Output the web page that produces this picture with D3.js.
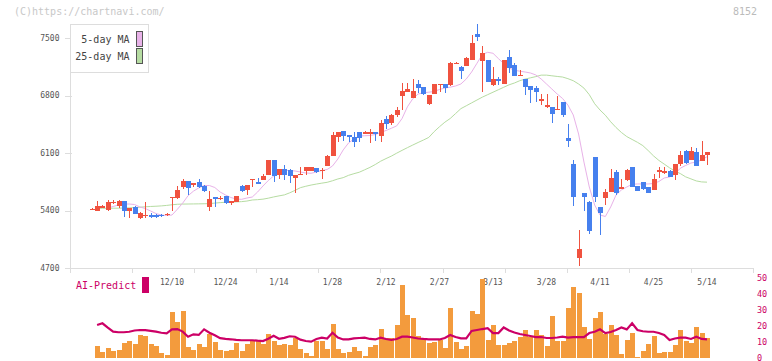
<!DOCTYPE html>
<html><head><meta charset="utf-8">
<script src="https://cdn.jsdelivr.net/npm/d3@7/dist/d3.min.js"></script>
<style>body{margin:0;background:#fff}svg{display:block}text{font-family:"DejaVu Sans Mono",monospace}</style>
</head><body><svg id="c" width="772" height="361"></svg>
<script>
const dates = ["2024/11/19","2024/11/20","2024/11/21","2024/11/22","2024/11/25","2024/11/26","2024/11/27","2024/11/28","2024/11/29","2024/12/02","2024/12/03","2024/12/04","2024/12/05","2024/12/06","2024/12/09","2024/12/10","2024/12/11","2024/12/12","2024/12/13","2024/12/16","2024/12/17","2024/12/18","2024/12/19","2024/12/20","2024/12/23","2024/12/24","2024/12/25","2024/12/26","2024/12/27","2024/12/30",
"2025/01/06","2025/01/07","2025/01/08","2025/01/09","2025/01/10","2025/01/14","2025/01/15","2025/01/16","2025/01/17","2025/01/20","2025/01/21","2025/01/22","2025/01/23","2025/01/24","2025/01/27","2025/01/28","2025/01/29","2025/01/30","2025/01/31",
"2025/02/03","2025/02/04","2025/02/05","2025/02/06","2025/02/07","2025/02/10","2025/02/12","2025/02/13","2025/02/14","2025/02/17","2025/02/18","2025/02/19","2025/02/20","2025/02/21","2025/02/25","2025/02/26","2025/02/27","2025/02/28",
"2025/03/03","2025/03/04","2025/03/05","2025/03/06","2025/03/07","2025/03/10","2025/03/11","2025/03/12","2025/03/13","2025/03/14","2025/03/17","2025/03/18","2025/03/19","2025/03/21","2025/03/24","2025/03/25","2025/03/26","2025/03/27","2025/03/28","2025/03/31",
"2025/04/01","2025/04/02","2025/04/03","2025/04/04","2025/04/07","2025/04/08","2025/04/09","2025/04/10","2025/04/11","2025/04/14","2025/04/15","2025/04/16","2025/04/17","2025/04/18","2025/04/21","2025/04/22","2025/04/23","2025/04/24","2025/04/25","2025/04/28","2025/04/30",
"2025/05/01","2025/05/02","2025/05/07","2025/05/08","2025/05/09","2025/05/12","2025/05/13","2025/05/14"];

const open = [5410,5398,5434,5406,5498,5455,5516,5398,5446,5312,5337,5349,5349,5349,5341,5560,5552,5690,5759,5715,
5751,5702,5446,5565,5536,5577,5487,5503,5698,5649,5775,5747,5771,5832,6014,5832,5905,5893,5799,5846,
5885,5880,5913,5890,5942,6063,6291,6368,6319,6291,6352,6348,6348,6352,6310,6520,6460,6560,6793,6846,
6773,6939,6899,6696,6818,6935,6939,6927,7190,7150,7159,7232,7548,7224,7232,6927,6997,6939,7264,7171,
7046,6997,6915,6887,6749,6656,6656,6632,6717,6278,5966,4818,5609,5507,6047,5439,5548,5630,5865,5662,
5771,5925,5698,5743,5682,5649,5872,5860,5885,5832,5966,6124,6014,6112,6006,6071];
const high = [5425,5516,5465,5528,5528,5530,5520,5435,5450,5382,5503,5373,5361,5355,5365,5570,5698,5783,5765,5735,
5779,5710,5637,5570,5577,5580,5520,5580,5705,5715,5785,5800,5841,6020,6020,5905,5954,5905,5836,5933,
5933,5930,5918,5913,6070,6352,6356,6372,6323,6352,6356,6368,6392,6356,6500,6550,6580,6660,6948,6948,
6997,6989,6905,6810,6945,6945,6942,7205,7205,7155,7265,7540,7670,7406,7236,7143,7022,7236,7353,7192,
7110,7000,6920,6915,6818,6818,6660,6794,6720,6453,6015,5163,5612,5510,6055,5442,5658,5905,5893,5783,
5905,5930,5702,5747,5686,5844,5926,5926,5890,5970,6128,6136,6169,6161,6250,6116];
const low = [5405,5394,5430,5398,5479,5427,5325,5309,5355,5297,5309,5312,5312,5325,5337,5398,5536,5662,5589,5682,
5675,5630,5398,5446,5528,5480,5463,5500,5622,5589,5690,5718,5766,5828,5751,5780,5771,5738,5609,5842,
5832,5876,5853,5780,5938,6060,6230,6250,6238,6177,6238,6340,6225,6250,6238,6392,6440,6540,6623,6846,
6770,6827,6812,6690,6815,6846,6834,6915,7180,6997,7155,7228,7467,6846,6960,6920,6928,6935,7070,7033,
7037,6806,6712,6724,6684,6650,6461,6623,6542,6177,5455,4724,5398,5114,5507,5102,5467,5625,5589,5658,
5759,5685,5637,5650,5612,5645,5792,5844,5808,5771,5942,5966,6010,5938,6000,5954];
const close = [5415,5455,5455,5503,5503,5516,5398,5430,5361,5370,5349,5325,5325,5333,5361,5565,5649,5759,5678,5731,
5682,5637,5540,5536,5556,5487,5516,5577,5637,5710,5780,5722,5820,6014,5824,5901,5832,5820,5832,5850,
5925,5925,5872,5893,6063,6319,6352,6307,6298,6237,6286,6352,6352,6331,6461,6453,6560,6620,6858,6879,
6858,6895,6818,6806,6939,6939,6887,7199,7196,7093,7260,7439,7516,7313,6968,6997,6976,7232,7131,7037,
7050,6907,6867,6846,6753,6684,6574,6636,6562,6250,5561,4928,5561,5154,5561,5373,5630,5792,5617,5682,
5893,5690,5641,5662,5617,5783,5889,5885,5811,5966,6075,5982,6124,5942,6071,6112];

const ma5 = [null,null,null,5430,5449,5467,5479,5479,5473,5443,5424,5394,5363,5345,5339,5345,5415,5490,5580,5635,
5675,5704,5704,5680,5625,5589,5558,5540,5536,5552,5564,5625,5698,5765,5820,5863,5887,5887,5881,5869,
5857,5853,5869,5887,5899,5942,6027,6137,6222,6270,6307,6310,6313,6325,6350,6374,6401,6430,6520,6662,
6760,6818,6833,6840,6849,6873,6891,6901,6916,6940,7001,7086,7192,7299,7326,7314,7250,7189,7135,7107,
7096,7086,7074,7050,7001,6940,6879,6818,6764,6684,6563,6331,5990,5686,5467,5345,5327,5443,5589,5650,
5686,5719,5723,5723,5723,5729,5753,5796,5808,5844,5914,5948,5978,5990,6015,6055];
const ma25 = [null,5426,5427,5427,5428,5428,5430,5432,5436,5440,5445,5449,5452,5456,5462,5470,5476,5478,5479,5480,
5481,5482,5484,5490,5496,5500,5503,5505,5508,5515,5528,5532,5538,5550,5565,5578,5590,5615,5645,5678,
5695,5710,5722,5733,5743,5762,5784,5800,5828,5848,5866,5895,5925,5960,6000,6032,6062,6098,6132,6165,
6197,6228,6258,6290,6360,6420,6475,6520,6580,6640,6675,6710,6745,6780,6810,6840,6870,6900,6930,6952,
6980,7000,7015,7030,7048,7048,7040,7032,7025,7005,6980,6940,6890,6810,6700,6623,6560,6480,6410,6350,
6300,6265,6230,6190,6130,6065,6010,5965,5920,5880,5850,5810,5785,5760,5748,5745];

const volume = [null,7.5,3.9,6.0,4.4,5.0,9.6,10.6,8.75,14.4,13.75,8.75,7.5,3.3,1.9,29,22.5,29.4,6.7,5,
8.75,6.9,15,10,5,4.4,5,9.2,4.4,8.75,11.25,11.25,8.75,14.8,10.6,8.1,8.75,8.1,12.3,5.4,
3,1.25,10.8,10.6,5.6,21.25,5.6,3.3,3.9,7.1,4.6,1.25,6.7,8.1,18.1,12.3,12.7,20.6,45.6,26.9,
24.8,13.75,12.3,9.6,10.2,11.25,6.5,31.5,10.2,5.6,7.5,29.4,27.3,49.4,11.25,20.6,8.1,8.1,9.6,10.8,
13.3,17.5,12.9,17.5,14.4,7.5,26.5,10.6,10.8,31,44.6,40.8,19.6,11.9,25.2,28.5,15,20.6,14.4,2.5,
11.25,15.8,0.8,4.6,8.75,13.75,3.3,3.9,3.9,8.1,17.5,10.6,9.2,19.6,15.4,12.7];
const aiPredict = [null,20.6,21.7,19,16.5,16.1,16.1,16.4,17.2,17.5,17.4,17,16.5,15.8,15.4,17.9,18.1,16.5,13.3,14.8,
14.4,17.9,15.8,14.2,12.4,11.9,11.7,11.3,11.1,11.1,11.1,10.8,10.6,12,13.9,12,12.6,13.6,13.3,11.5,
10.6,10.2,11.9,12.7,12.2,15.8,12.8,11.6,11.6,12.3,12.5,12.7,11.9,11.6,12.7,11.9,11.25,11.9,13.3,13.3,
12.8,12.2,11.9,11.7,11.7,11.6,12.5,14.4,13.1,12.3,12.3,16.9,17.5,18.1,18.6,15.6,15.6,19.1,17.2,15.9,
15,14.4,13.75,13.1,13.1,12.5,12.5,12.8,13.3,12.7,13.1,13.1,13.1,15.6,16.4,17.9,15.6,16.25,17.5,19.1,
17.9,21.7,17.5,16.7,16.4,16.4,15.6,14.4,11.25,12.2,12.7,12.7,11.9,13.3,11.9,11.7];

const tickDates = ["2024/12/10","2024/12/24","2025/01/14","2025/01/28","2025/02/12","2025/02/27","2025/03/13","2025/03/28","2025/04/11","2025/04/25","2025/05/14"];
const tickLabels = ["12/10","12/24","1/14","1/28","2/12","2/27","3/13","3/28","4/11","4/25","5/14"];
const priceTicks = [4700,5400,6100,6800,7500];
const volTicks = [0,10,20,30,40,50];

const svg = d3.select("#c");
const C = {up:"#f0523f", down:"#4680ee", ma5:"#e8b2e8", ma25:"#b6dca2", axis:"#dddddd", lab:"#555", mag:"#cc0066", vol:"#f39b3d"};

const x = d3.scalePoint().domain(dates).range([91.75, 707]);
const y = d3.scaleLinear().domain([4700, 7500]).range([268, 38]);
const yv = d3.scaleLinear().domain([0, 50]).range([358, 278]);
const grid = d3.scaleLinear().domain([0, 11]).range([70, 753]);

// header
svg.append("text").attr("x",14).attr("y",12).attr("dominant-baseline","middle").attr("font-size",10).attr("fill","#c8c8c8").text("(C)https://chartnavi.com/");
svg.append("text").attr("x",757).attr("y",12).attr("dominant-baseline","middle").attr("text-anchor","end").attr("font-size",10).attr("fill","#bbb").text("8152");

// axes
svg.append("line").attr("x1",70.5).attr("x2",70.5).attr("y1",24).attr("y2",268).attr("stroke",C.axis);
svg.append("line").attr("x1",65).attr("x2",753).attr("y1",268.5).attr("y2",268.5).attr("stroke",C.axis);
svg.selectAll(".gt").data(d3.range(0,12)).join("line").attr("x1",d=>Math.round(grid(d))+0.5).attr("x2",d=>Math.round(grid(d))+0.5)
  .attr("y1",268).attr("y2",273).attr("stroke",C.axis);
svg.selectAll(".yt").data(priceTicks).join("line").attr("x1",65).attr("x2",72).attr("y1",d=>Math.round(y(d))+0.5).attr("y2",d=>Math.round(y(d))+0.5).attr("stroke",C.axis);
svg.selectAll(".yl").data(priceTicks).join("text").attr("x",59.5).attr("y",d=>y(d)).attr("dominant-baseline","middle").attr("text-anchor","end")
  .attr("font-size",8).attr("fill",C.lab).text(d=>d);
svg.selectAll(".xl").data(tickDates).join("text").attr("x",d=>x(d)).attr("y",282).attr("dominant-baseline","middle").attr("text-anchor","middle")
  .attr("font-size",8).attr("fill",C.lab).text((d,i)=>tickLabels[i]);

// MA lines
const idx = d3.range(dates.length);
const mline = arr => d3.line().defined(i=>arr[i]!=null).x(i=>x(dates[i])).y(i=>y(arr[i]));
svg.append("path").attr("d",mline(ma25)(idx)).attr("fill","none").attr("stroke",C.ma25).attr("stroke-width",1);
svg.append("path").attr("d",mline(ma5)(idx)).attr("fill","none").attr("stroke",C.ma5).attr("stroke-width",1);

// candles
const cg = svg.append("g").attr("shape-rendering","crispEdges");
idx.forEach(i=>{
  const cx = x(dates[i]); const col = close[i]>=open[i]?C.up:C.down;
  const wx = Math.round(cx)+0.5;
  cg.append("line").attr("x1",wx).attr("x2",wx).attr("y1",y(high[i])).attr("y2",y(low[i])).attr("stroke",col);
  const top = y(Math.max(open[i],close[i])), bot = y(Math.min(open[i],close[i]));
  cg.append("rect").attr("x",Math.round(cx)-2).attr("width",5).attr("y",top).attr("height",Math.max(1.2,bot-top)).attr("fill",col);
});

// legend
svg.append("rect").attr("x",70.5).attr("y",24.5).attr("width",78).attr("height",48).attr("fill","#fff").attr("stroke",C.axis);
const legend = [{t:"5-day MA",c:C.ma5},{t:"25-day MA",c:C.ma25}];
legend.forEach((l,k)=>{
  svg.append("text").attr("x",129.5).attr("y",40+k*17).attr("dominant-baseline","middle").attr("text-anchor","end").attr("font-size",10).attr("fill","#444").text(l.t);
  svg.append("rect").attr("x",136.5).attr("y",31.5+k*17).attr("width",6).attr("height",15).attr("fill",l.c).attr("stroke","#555");
});

// lower panel
svg.append("text").attr("x",76).attr("y",286).attr("dominant-baseline","middle").attr("font-size",10).attr("fill",C.mag).text("AI-Predict");
svg.append("rect").attr("x",142).attr("y",277).attr("width",7).attr("height",16).attr("fill",C.mag);
svg.append("g").attr("shape-rendering","crispEdges").selectAll("rect").data(idx.filter(i=>volume[i]!=null)).join("rect")
  .attr("x",i=>Math.round(x(dates[i]))-2).attr("width",5).attr("y",i=>yv(volume[i])).attr("height",i=>yv(0)-yv(volume[i])).attr("fill",C.vol);
svg.append("path").attr("d",d3.line().defined(i=>aiPredict[i]!=null).x(i=>x(dates[i])).y(i=>yv(aiPredict[i]))(idx))
  .attr("fill","none").attr("stroke",C.mag).attr("stroke-width",2.2);
svg.selectAll(".vl").data(volTicks).join("text").attr("x",757).attr("y",d=>yv(d)).attr("dominant-baseline","middle")
  .attr("font-size",8.5).attr("fill",C.mag).text(d=>d);
</script></body></html>
